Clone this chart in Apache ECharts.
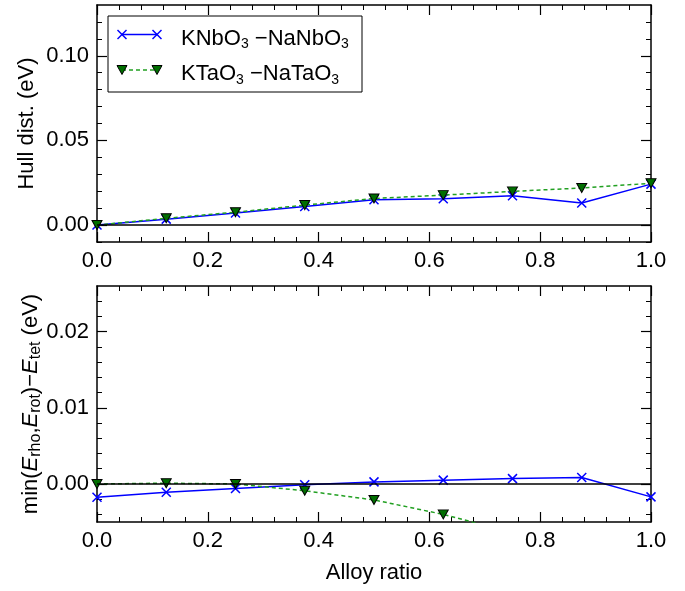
<!DOCTYPE html>
<html>
<head>
<meta charset="utf-8">
<script src="https://cdn.jsdelivr.net/npm/echarts@6/dist/echarts.min.js"></script>
<style>html,body{margin:0;padding:0;background:#fff;}#c{width:685px;height:591px;}</style>
</head>
<body>
<div id="c"></div>
<script>
// ---- data ----
const ratios = [0, 0.125, 0.25, 0.375, 0.5, 0.625, 0.75, 0.875, 1.0];
const hullNb = [0.0, 0.0035, 0.0071, 0.0110, 0.0150, 0.0155, 0.0173, 0.0130, 0.0242];
const hullTa = [0.0, 0.0040, 0.0076, 0.0118, 0.0157, 0.0177, 0.0199, 0.0219, 0.0247];
const diffNb = [-0.00175, -0.0011, -0.0006, -0.0001, 0.00027, 0.0005, 0.0007, 0.00084, -0.0017];
const diffTa = [0.0, 0.0001, 0.0, -0.0009, -0.0021, -0.0040, -0.0064, -0.0090, -0.0120];
const seriesNames = ['KNbO{s|3} −NaNbO{s|3}', 'KTaO{s|3} −NaTaO{s|3}'];

// ---- ticks ----
const xTicks = [0, 0.2, 0.4, 0.6, 0.8, 1.0];
const xMinorTicks = [0, 0.04, 0.08, 0.12, 0.16, 0.2, 0.24, 0.28, 0.32, 0.36, 0.4, 0.44, 0.48, 0.52, 0.56, 0.6, 0.64, 0.68, 0.72, 0.76, 0.8, 0.84, 0.88, 0.92, 0.96, 1.0];
const hullTicks = [0, 0.05, 0.10];
const hullMinorTicks = [-0.01, 0, 0.01, 0.02, 0.03, 0.04, 0.05, 0.06, 0.07, 0.08, 0.09, 0.10, 0.11, 0.12];
const diffTicks = [0, 0.01, 0.02];
const diffMinorTicks = [-0.004, -0.002, 0, 0.002, 0.004, 0.006, 0.008, 0.010, 0.012, 0.014, 0.016, 0.018, 0.020, 0.022, 0.024];

const FONT = 'Liberation Sans, Arial, Helvetica, sans-serif';
const BLUE = '#0000ff';
const GLINE = '#22a022';
const GFILL = '#006e00';
const X_PATH = 'path://M0,0L10,10M10,0L0,10';

const chart = echarts.init(document.getElementById('c'), null, {renderer: 'canvas'});

function frameX(grid, pos, showLabel, name) {
  return {
    type: 'value', gridIndex: grid, position: pos, min: 0, max: 1,
    axisLine: {show: true, onZero: false, lineStyle: {color: '#000', width: 1.5}},
    axisTick: {show: true, inside: true, length: 10, customValues: xTicks, lineStyle: {color: '#000', width: 1.2}},
    axisLabel: {show: showLabel, customValues: xTicks, formatter: v => v.toFixed(1), fontSize: 22, fontFamily: FONT, color: '#000', margin: 8},
    splitLine: {show: false},
    name: name || '', nameLocation: 'middle', nameGap: 40, nameMoveOverlap: false,
    nameTextStyle: {fontSize: 22, fontFamily: FONT, color: '#000'}
  };
}
function minorX(grid, pos) {
  return {
    type: 'value', gridIndex: grid, position: pos, min: 0, max: 1,
    axisLine: {show: false, onZero: false},
    axisTick: {show: true, inside: true, length: 5, customValues: xMinorTicks, lineStyle: {color: '#000', width: 1}},
    axisLabel: {show: false}, splitLine: {show: false}
  };
}
function frameY(grid, pos, min, max, ticks, showLabel, name, extra) {
  return Object.assign({
    type: 'value', gridIndex: grid, position: pos, min: min, max: max,
    axisLine: {show: true, onZero: false, lineStyle: {color: '#000', width: 1.5}},
    axisTick: {show: true, inside: true, length: 10, customValues: ticks, lineStyle: {color: '#000', width: 1.2}},
    axisLabel: {show: showLabel, customValues: ticks, formatter: v => v.toFixed(2), fontSize: 22, fontFamily: FONT, color: '#000', margin: 8},
    splitLine: {show: false},
    name: name || '', nameLocation: 'middle', nameRotate: 90, nameMoveOverlap: false
  }, extra || {});
}
function minorY(grid, pos, min, max, ticks) {
  return {
    type: 'value', gridIndex: grid, position: pos, min: min, max: max,
    axisLine: {show: false, onZero: false},
    axisTick: {show: true, inside: true, length: 5, customValues: ticks, lineStyle: {color: '#000', width: 1}},
    axisLabel: {show: false}, splitLine: {show: false}
  };
}

const zeroLine = {
  silent: true, symbol: ['none', 'none'], label: {show: false},
  lineStyle: {color: '#000', type: 'solid', width: 1.5},
  data: [{yAxis: 0}], animation: false
};

function blueSeries(xi, yi, vals, withZero) {
  const s = {
    type: 'line', xAxisIndex: xi, yAxisIndex: yi,
    data: ratios.map((x, i) => [x, vals[i]]),
    symbol: X_PATH, symbolSize: 9, showAllSymbol: true,
    itemStyle: {color: 'rgba(0,0,0,0)', borderColor: BLUE, borderWidth: 1.5},
    lineStyle: {color: BLUE, width: 1.5}, clip: true, z: 3
  };
  if (withZero) s.markLine = zeroLine;
  return s;
}
function greenSeries(xi, yi, vals) {
  return {
    type: 'line', xAxisIndex: xi, yAxisIndex: yi,
    data: ratios.map((x, i) => [x, vals[i]]),
    symbol: 'triangle', symbolRotate: 180, symbolSize: [10, 9], showAllSymbol: true,
    itemStyle: {color: GFILL, borderColor: '#000', borderWidth: 1},
    lineStyle: {color: GLINE, width: 1.5, type: [4, 3]}, clip: true, z: 4
  };
}

const richSub = {
  s: {fontSize: 14, lineHeight: 11, verticalAlign: 'bottom', fontFamily: FONT, color: '#000'},
  i: {fontSize: 22, lineHeight: 26, fontStyle: 'italic', fontFamily: FONT, color: '#000'}
};
const richAxis = {
  s: {fontSize: 16, lineHeight: 12, verticalAlign: 'bottom', fontFamily: FONT, color: '#000'},
  i: {fontSize: 22, lineHeight: 26, fontStyle: 'italic', fontFamily: FONT, color: '#000'}
};

// legend drawn as graphic
const LX = 108, LY = 16;
function xMark(cx, cy) {
  return [
    {type: 'line', shape: {x1: cx - 4.5, y1: cy - 4.5, x2: cx + 4.5, y2: cy + 4.5}, style: {stroke: BLUE, lineWidth: 1.5}},
    {type: 'line', shape: {x1: cx - 4.5, y1: cy + 4.5, x2: cx + 4.5, y2: cy - 4.5}, style: {stroke: BLUE, lineWidth: 1.5}}
  ];
}
function triMark(cx, cy) {
  return {type: 'polygon', shape: {points: [[cx - 5, cy - 4.5], [cx + 5, cy - 4.5], [cx, cy + 4.5]]}, style: {fill: GFILL, stroke: '#000', lineWidth: 1}};
}
const legendEls = [
  {type: 'rect', shape: {x: LX, y: LY, width: 254, height: 76}, style: {fill: '#fff', stroke: '#000', lineWidth: 1}},
  {type: 'line', shape: {x1: 122, y1: 34.5, x2: 157, y2: 34.5}, style: {stroke: BLUE, lineWidth: 1.5}},
  ...xMark(122, 34.5), ...xMark(157, 34.5),
  {type: 'line', shape: {x1: 122, y1: 70, x2: 157, y2: 70}, style: {stroke: GLINE, lineWidth: 1.5, lineDash: [4, 3]}},
  triMark(122, 70), triMark(157, 70),
  {type: 'text', x: 181, y: 38.5, style: {text: seriesNames[0], font: '22px ' + FONT, fill: '#000', lineHeight: 26, verticalAlign: 'middle', rich: richSub}},
  {type: 'text', x: 181, y: 74, style: {text: seriesNames[1], font: '22px ' + FONT, fill: '#000', lineHeight: 26, verticalAlign: 'middle', rich: richSub}}
];

const option = {
  animation: false,
  backgroundColor: '#fff',
  grid: [
    {left: 97, right: 34, top: 5, height: 237},
    {left: 97, right: 34, top: 286, height: 236},
    {left: 97, right: 34, top: 5, height: 237},
    {left: 97, right: 34, top: 286, height: 236}
  ],
  xAxis: [
    frameX(0, 'bottom', true), frameX(0, 'top', false),
    frameX(1, 'bottom', true, 'Alloy ratio'), frameX(1, 'top', false),
    minorX(2, 'bottom'), minorX(2, 'top'),
    minorX(3, 'bottom'), minorX(3, 'top')
  ],
  yAxis: [
    frameY(0, 'left', -0.01, 0.13, hullTicks, true, 'Hull dist. (eV)', {nameGap: 57, nameTextStyle: {fontSize: 22, lineHeight: 26, fontFamily: FONT, color: '#000'}}),
    frameY(0, 'right', -0.01, 0.13, hullTicks, false),
    frameY(1, 'left', -0.005, 0.026, diffTicks, true, 'min({i|E}{s|rho},{i|E}{s|rot})−{i|E}{s|tet} (eV)', {nameGap: 53, nameTextStyle: {fontSize: 22, lineHeight: 26, fontFamily: FONT, color: '#000', rich: richAxis}}),
    frameY(1, 'right', -0.005, 0.026, diffTicks, false),
    minorY(2, 'left', -0.01, 0.13, hullMinorTicks), minorY(2, 'right', -0.01, 0.13, hullMinorTicks),
    minorY(3, 'left', -0.005, 0.026, diffMinorTicks), minorY(3, 'right', -0.005, 0.026, diffMinorTicks)
  ],
  series: [
    blueSeries(0, 0, hullNb, true),
    greenSeries(0, 0, hullTa),
    blueSeries(2, 2, diffNb, true),
    greenSeries(2, 2, diffTa)
  ],
  graphic: {elements: legendEls.map(e => Object.assign({z: 100}, e))}
};
chart.setOption(option);
</script>
</body>
</html>
